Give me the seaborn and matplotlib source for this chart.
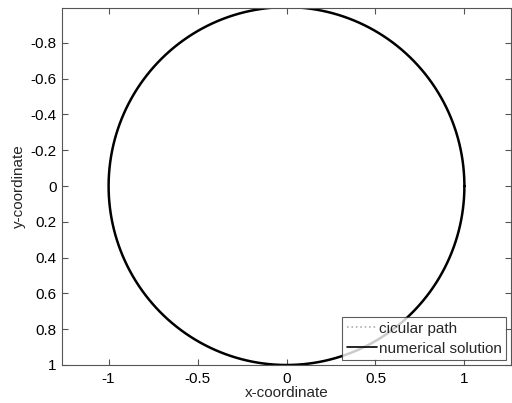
import numpy as np
import pandas as pd
import matplotlib
matplotlib.use("Agg")
import matplotlib.pyplot as plt
import seaborn as sns

# Data: circular path of radius 1 centred at the origin
radius = 1.0
center = (0.0, 0.0)
n_points = 400
theta = np.linspace(0, 2 * np.pi, n_points)
x_path = center[0] + radius * np.cos(theta)
y_path = center[1] + radius * np.sin(theta)
x_num = x_path.copy()
y_num = y_path.copy()

x_ticks = [-1, -0.5, 0, 0.5, 1]
x_tick_labels = ["-1", "-0.5", "0", "0.5", "1"]
y_ticks = [-0.8, -0.6, -0.4, -0.2, 0, 0.2, 0.4, 0.6, 0.8, 1]
y_tick_labels = ["-0.8", "-0.6", "-0.4", "-0.2", "0", "0.2", "0.4", "0.6", "0.8", "1"]

sns.set_style("white")
plt.rcParams['font.family'] = ['Liberation Sans', 'DejaVu Sans']

fig = plt.figure(figsize=(5.12, 4.03), dpi=100)
ax = fig.add_axes([62 / 512, 1 - 365 / 403, (511 - 62) / 512, (365 - 8) / 403])

df_path = pd.DataFrame({"x": x_path, "y": y_path, "i": np.arange(n_points)})
df_num = pd.DataFrame({"x": x_num, "y": y_num, "i": np.arange(n_points)})

sns.lineplot(data=df_path, x="x", y="y", sort=False, estimator=None, ax=ax,
             color="#b0b0b0", linestyle=":", linewidth=1.0, label="cicular path")
sns.lineplot(data=df_num, x="x", y="y", sort=False, estimator=None, ax=ax,
             color="black", linestyle="-", linewidth=1.8, label="numerical solution")

ax.set_xlim(-1.262, 1.262)
ax.set_ylim(1.0, -0.995)
ax.set_xticks(x_ticks)
ax.set_xticklabels(x_tick_labels)
ax.set_yticks(y_ticks)
ax.set_yticklabels(y_tick_labels)
ax.set_xlabel("x-coordinate", fontsize=11, labelpad=0)
ax.set_ylabel("y-coordinate", fontsize=11, labelpad=3)

for s in ax.spines.values():
    s.set_visible(True)
    s.set_color("#555555")
    s.set_linewidth(0.8)
ax.tick_params(direction="in", length=4, width=0.8, color="#555555",
               labelsize=11, labelcolor="black", top=True, right=True,
               bottom=True, left=True, pad=4)
ax.tick_params(axis="x", pad=5)

leg = ax.legend(loc="lower right", fontsize=11, frameon=True, fancybox=False,
                borderpad=0.3, labelspacing=0.4, handlelength=2.0,
                handletextpad=0.1, borderaxespad=0.3)
leg.get_frame().set_edgecolor("#333333")
leg.get_frame().set_linewidth(0.8)
for h in leg.get_lines():
    h.set_linewidth(1.2)

fig.savefig("out.png", dpi=100)
